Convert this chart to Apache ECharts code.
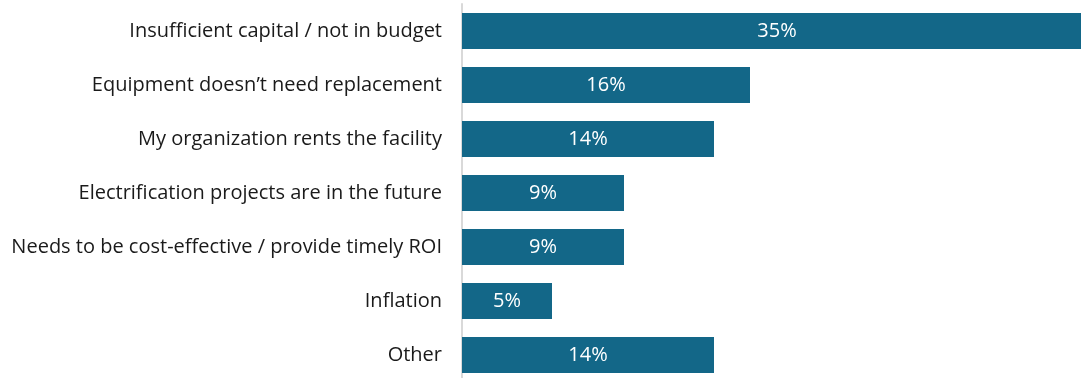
<!DOCTYPE html>
<html>
<head>
<meta charset="utf-8">
<script src="https://cdn.jsdelivr.net/npm/echarts@6/dist/echarts.min.js"></script>
<style>
  html, body { margin: 0; padding: 0; background: #ffffff; }
  #chart { width: 1081px; height: 378px; }
</style>
</head>
<body>
<div id="chart"></div>
<script>
// Reasons cited, top to bottom
const categories = [
  'Insufficient capital / not in budget',
  'Equipment doesn\u2019t need replacement',
  'My organization rents the facility',
  'Electrification projects are in the future',
  'Needs to be cost-effective / provide timely ROI',
  'Inflation',
  'Other'
];
// Share of respondents (%)
const shares = [35, 16, 14, 9, 9, 5, 14];

const FONT = '"Open Sans", "Liberation Sans", Arial, sans-serif';
const chart = echarts.init(document.getElementById('chart'));

chart.setOption({
  animation: false,
  grid: {
    left: 462, top: 4, width: 630, height: 378,
    containLabel: false,
    outerBoundsMode: 'none'
  },
  xAxis: {
    type: 'value',
    min: 0,
    max: 35,
    show: false
  },
  yAxis: {
    type: 'category',
    data: categories,
    inverse: true,
    axisLine: { show: true, lineStyle: { color: '#d9d9d9', width: 2 } },
    axisTick: { show: false },
    axisLabel: {
      margin: 20,
      color: '#1a1a1a',
      fontFamily: FONT,
      fontSize: 20
    }
  },
  series: [{
    type: 'bar',
    data: shares,
    barCategoryGap: '33%',
    clip: true,
    itemStyle: { color: '#136788' },
    label: {
      show: true,
      position: 'inside',
      formatter: p => p.value + '%',
      color: '#ffffff',
      fontFamily: FONT,
      fontSize: 20
    }
  }]
});
</script>
</body>
</html>
